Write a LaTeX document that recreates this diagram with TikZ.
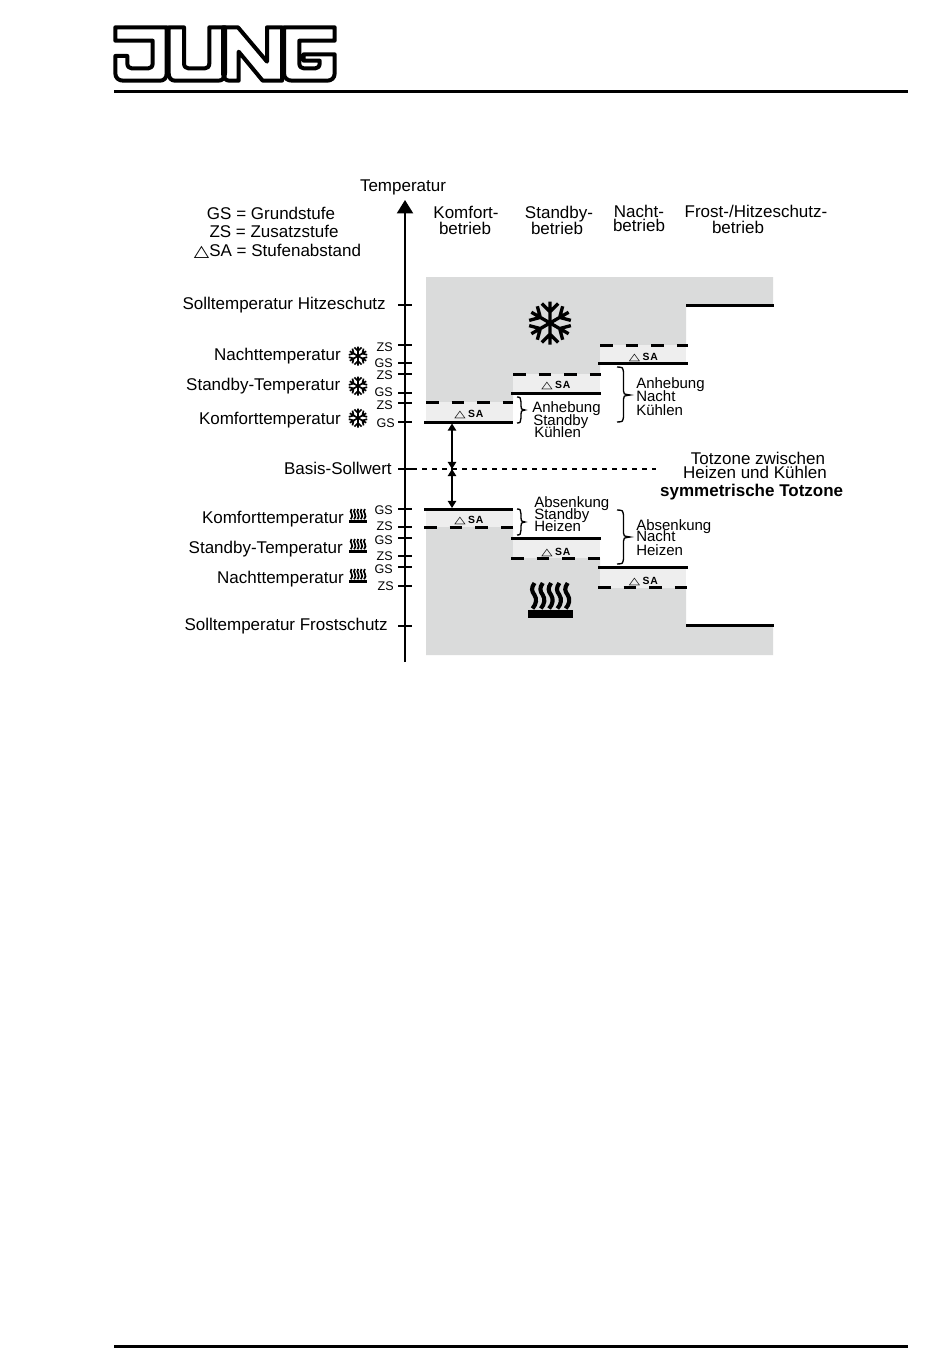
\documentclass[tikz,border=0pt]{standalone}
\usepackage{fontspec}
\usepackage{graphicx}
\setmainfont{Liberation Sans}
\newfontfamily\symf{DejaVu Sans}
\newfontfamily\saf[LetterSpace=7]{Liberation Sans Bold}
\definecolor{zonegray}{HTML}{DADBDB}
\definecolor{bandgray}{HTML}{EEEEEE}
\usetikzlibrary{arrows.meta}
\tikzset{
  lbl/.style={font=\fontsize{12.75pt}{14pt}\selectfont,inner sep=0pt,anchor=base},
  lblr/.style={lbl,anchor=base east},
  lbll/.style={lbl,anchor=base west},
  brt/.style={font=\fontsize{11.25pt}{12pt}\selectfont,inner sep=0pt,anchor=base west},
  stufe/.style={font=\fontsize{9.4pt}{10pt}\selectfont,inner sep=0pt,anchor=base east},
  sanode/.style={font=\fontsize{7.8pt}{8pt}\selectfont,inner sep=0pt,anchor=base west},
  level/.style={line width=2.25pt},
  dlevel/.style={line width=2.25pt,dash pattern=on 9.4pt off 9.8pt},
  tick/.style={line width=1.1pt},
  rule/.style={line width=2.25pt},
  logo/.style={line width=3pt,line join=round},
  gap/.style={line width=1.1pt,-{Triangle[length=5.4pt,width=6.4pt]}},
  klammer/.style={line width=1pt},
}
% snowflake: centre x, y, radius (px), line width
\newcommand{\snowf}[4]{%
  \begin{scope}[shift={(#1,#2)},x=#3*.75pt,y=#3*.75pt]
    \foreach \a in {90,150,210,270,330,30}{
      \draw[line width=#4,rotate=\a] (0,0) -- (1,0) (.52,0) -- (.9,.38) (.52,0) -- (.9,-.38);
    }
  \end{scope}}
% heat symbol: left x, top y, scale
\newcommand{\heatf}[4]{%
  \begin{scope}[shift={(#1,#2)},x=#3*.75pt,y=-#3*.75pt]
    \foreach \i in {0,...,4}{
      \draw[line width=#4,xshift=\i*8.3*#3*.75pt]
        (6.5,0) .. controls (3,5) and (3.5,8) .. (6.5,12) .. controls (9,16) and (8.5,21) .. (4.5,25.5);
    }
    \fill (0,27) rectangle (45,35);
  \end{scope}}
\newcommand{\bracef}[5]{% x0, x1, top, tip, bottom
  \draw[klammer] (#1,#3) .. controls ({(#1+#2)/2},#3) and ({(#1+#2)/2-1},#3+1) .. ({(#1+#2)/2},#3+5)
    -- ({(#1+#2)/2},#4-4) .. controls ({(#1+#2)/2},#4-1) .. (#2,#4)
    .. controls ({(#1+#2)/2},#4+1) .. ({(#1+#2)/2},#4+4)
    -- ({(#1+#2)/2},#5-5) .. controls ({(#1+#2)/2-1},#5-1) and ({(#1+#2)/2},#5) .. (#1,#5);}
\newcommand{\satag}{{\symf\fontsize{11pt}{11pt}\selectfont\scalebox{1}[.68]{△}}\hspace{2pt}{\saf SA}}
\begin{document}
\begin{tikzpicture}[x=.75pt,y=-.75pt]
\useasboundingbox (0,0) rectangle (950,1370);

% ---------- logo
\begin{scope}[shift={(110,20)},x=.25pt,y=-.25pt]
  \draw[logo] (16,22) -- (170,22) -- (170,160) .. controls (170,174) and (162,182) .. (150,182)
    -- (40,182) .. controls (26,182) and (16,174) .. (16,160) -- (16,108) -- (52,108) -- (52,130)
    .. controls (52,140) and (58,145) .. (65,145) -- (115,145) .. controls (122,145) and (128,140) .. (128,130)
    -- (128,62) -- (16,62) -- cycle;
  \draw[logo] (176,22) -- (222,22) -- (222,130) .. controls (222,140) and (228,145) .. (235,145)
    -- (285,145) .. controls (292,145) and (298,140) .. (298,130) -- (298,22) -- (345,22) -- (345,160)
    .. controls (345,174) and (337,182) .. (325,182) -- (195,182) .. controls (184,182) and (176,174) .. (176,160) -- cycle;
\end{scope}
\begin{scope}[shift={(222,20)},x=.25pt,y=-.25pt]
  \draw[logo] (3,22) -- (48,22) -- (135,125) -- (135,22) -- (180,22) -- (180,182) -- (122,182)
    -- (50,95) -- (50,182) -- (22,182) .. controls (12,182) and (3,174) .. (3,160) -- cycle;
  \draw[logo] (186,22) -- (338,22) -- (338,62) -- (232,62) -- (232,130) .. controls (232,140) and (238,145) .. (245,145)
    -- (280,145) .. controls (287,145) and (293,140) .. (293,130) -- (293,122) -- (245,122) -- (245,103) -- (338,103)
    -- (338,160) .. controls (338,174) and (328,182) .. (316,182) -- (210,182) .. controls (196,182) and (186,174) .. (186,160) -- cycle;
\end{scope}
\coordinate (r1a) at (114,91.5); \coordinate (r1b) at (908,91.5);
\coordinate (r2a) at (114,1346.5); \coordinate (r2b) at (908,1346.5);
\draw[rule] (r1a) -- (r1b);
\draw[rule] (r2a) -- (r2b);

% ---------- grey zones
\fill[zonegray] (426,277) -- (773,277) -- (773,305) -- (686,305) -- (686,345) -- (600,345) -- (600,374)
  -- (513,374) -- (513,402) -- (426,402) -- cycle;
\fill[zonegray] (426,527) -- (513,527) -- (513,558) -- (600,558) -- (600,588) -- (686,588) -- (686,626)
  -- (773,626) -- (773,655) -- (426,655) -- cycle;
\fill[bandgray] (426,402) rectangle (513,422);
\fill[bandgray] (513,374) rectangle (600,393);
\fill[bandgray] (600,345) rectangle (686,363);
\fill[bandgray] (426,509) rectangle (513,527);
\fill[bandgray] (513,538) rectangle (600,558);
\fill[bandgray] (600,567) rectangle (686,588);

% ---------- axis
\coordinate (axb) at (405,662); \coordinate (axt) at (405,200);
\draw[line width=1.5pt,-{Triangle[length=10pt,width=12pt]}] (axb) -- (axt);
\foreach \y in {305,345,363,374,393,403,422,469,509,527,538,556,567,586,626}{
  \draw[tick] (398,\y) -- (412,\y);
}

% ---------- levels
\draw[level] (686,305) -- (774,305);
\draw[level] (598,363) -- (688,363);
\draw[level] (511,393) -- (601,393);
\draw[level] (424,422) -- (513,422);
\draw[level] (424,509) -- (513,509);
\draw[level] (511,538) -- (601,538);
\draw[level] (598,567) -- (688,567);
\draw[level] (686,625.5) -- (774,625.5);
\draw[dlevel] (600,345) -- (688,345);
\draw[dlevel] (513,374) -- (601,374);
\draw[dlevel] (426,402.5) -- (513,402.5);
\draw[dlevel] (424,527) -- (513,527);
\draw[dlevel] (511,558) -- (601,558);
\draw[dlevel] (598,587.5) -- (688,587.5);

% ---------- Basis-Sollwert line and dead-zone arrows
\coordinate (bas0) at (412,469); \coordinate (bas1) at (656,469);
\draw[line width=1pt,dash pattern=on 3.8pt off 3.7pt] (bas0) -- (bas1);
\coordinate (dzk) at (452,423.5); \coordinate (dzb) at (452,469); \coordinate (dzh) at (452,508);
\coordinate (dzo) at (452,455); \coordinate (dzu) at (452,483);
\draw[gap] (dzb) -- (dzk);
\draw[gap] (dzb) -- (dzh);
\draw[gap] (dzo) -- (dzb);
\draw[gap] (dzu) -- (dzb);

% ---------- symbols
\snowf{550}{323}{21.5}{2.5pt}
\snowf{358}{356}{9.5}{1.25pt}
\snowf{358}{386}{9.5}{1.25pt}
\snowf{358}{418}{9.5}{1.25pt}
\heatf{528}{583}{1}{3.1pt}
\heatf{349}{509}{.4}{1.3pt}
\heatf{349}{539}{.4}{1.3pt}
\heatf{349}{569}{.4}{1.3pt}

% ---------- braces
\bracef{517}{525}{397}{410}{423}
\bracef{517}{525}{509}{522}{535}
\bracef{617}{630}{367}{395}{422}
\bracef{617}{630}{510}{537}{564}

% ---------- headings and legend
\node[lbl] (ttemp) at (403,191.2) {Temperatur};
\node[lbl] (tleg1) at (271,219) {GS = Grundstufe};
\node[lbl] (tleg2) at (274,237.7) {ZS = Zusatzstufe};
\node[lbl] (tleg3) at (277.5,256) {{\symf\fontsize{15pt}{15pt}\selectfont\scalebox{1}[.8]{△}}SA = Stufenabstand};
\node[lbl] (tk1) at (466,218.5) {Komfort-};
\node[lbl] (tk2) at (465,234) {betrieb};
\node[lbl] (ts1) at (559,218) {Standby-};
\node[lbl] (ts2) at (557,234) {betrieb};
\node[lbl] (tn1) at (639,217.5) {Nacht-};
\node[lbl] (tn2) at (639,231.2) {betrieb};
\node[lbl] (tf1) at (756,217.5) {Frost-/Hitzeschutz-};
\node[lbl] (tf2) at (738,233) {betrieb};

% ---------- left labels
\node[lblr] (lh) at (386,309) {Solltemperatur Hitzeschutz};
\node[lblr] (ln1) at (341,360.5) {Nachttemperatur};
\node[lblr] (ls1) at (340.5,390.7) {Standby-Temperatur};
\node[lblr] (lk1) at (341,424) {Komforttemperatur};
\node[lblr] (lb) at (392,474) {Basis-Sollwert};
\node[lblr] (lk2) at (344,523) {Komforttemperatur};
\node[lblr] (ls2) at (343,553) {Standby-Temperatur};
\node[lblr] (ln2) at (344,583) {Nachttemperatur};
\node[lblr] (lf) at (388,630.7) {Solltemperatur Frostschutz};

% ---------- ZS / GS
\node[stufe] (z1) at (393,351) {ZS};
\node[stufe] (g1) at (393,367) {GS};
\node[stufe] (z2) at (393,379.5) {ZS};
\node[stufe] (g2) at (393,396.7) {GS};
\node[stufe] (z3) at (393,409) {ZS};
\node[stufe] (g3) at (395,427.7) {GS};
\node[stufe] (g4) at (393,514.7) {GS};
\node[stufe] (z4) at (393,530) {ZS};
\node[stufe] (g5) at (393,544) {GS};
\node[stufe] (z5) at (393,560) {ZS};
\node[stufe] (g6) at (393,573) {GS};
\node[stufe] (z6) at (394,590) {ZS};

% ---------- SA tags
\node[sanode] (sa1) at (454,417.5) {\satag};
\node[sanode] (sa2) at (541,388.5) {\satag};
\node[sanode] (sa3) at (628.5,360) {\satag};
\node[sanode] (sa4) at (454,523) {\satag};
\node[sanode] (sa5) at (541,555) {\satag};
\node[sanode] (sa6) at (628.5,584) {\satag};

% ---------- brace texts
\node[brt] (a1) at (532,412.7) {Anhebung};
\node[brt] (a2) at (533,425) {Standby};
\node[brt] (a3) at (534,437.7) {Kühlen};
\node[brt] (b1) at (636,388.3) {Anhebung};
\node[brt] (b2) at (636,401) {Nacht};
\node[brt] (b3) at (636,415) {Kühlen};
\node[brt] (c1) at (534,507.7) {Absenkung};
\node[brt] (c2) at (534,519.3) {Standby};
\node[brt] (c3) at (534,531.7) {Heizen};
\node[brt] (d1) at (636,530) {Absenkung};
\node[brt] (d2) at (636,541.7) {Nacht};
\node[brt] (d3) at (636,555) {Heizen};

% ---------- dead zone text
\node[lbl] (t1) at (758,464) {Totzone zwischen};
\node[lbl] (t2) at (755,478) {Heizen und Kühlen};
\node[lbl,font=\fontsize{12.75pt}{14pt}\selectfont\bfseries] (t3) at (751.7,496.7) {symmetrische Totzone};
\end{tikzpicture}
\end{document}
